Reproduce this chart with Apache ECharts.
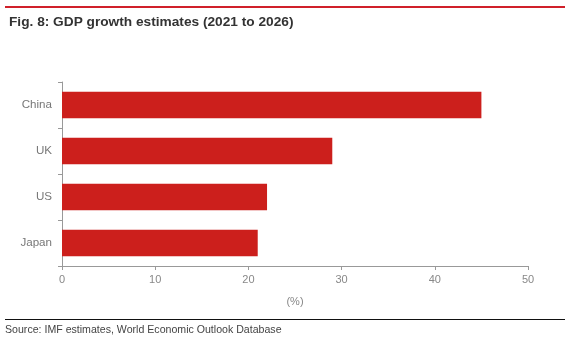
<!DOCTYPE html>
<html><head><meta charset="utf-8">
<script src="https://cdn.jsdelivr.net/npm/echarts@6/dist/echarts.min.js"></script>
<style>html,body{margin:0;padding:0;background:#fff}#c{width:569px;height:341px}</style>
</head><body><div id="c"></div>
<script>
var categories = ['China', 'UK', 'US', 'Japan'];
var values = [45, 29, 22, 21];
var xTicks = [0, 10, 20, 30, 40, 50];

var chart = echarts.init(document.getElementById('c'), null, {renderer: 'canvas'});
chart.setOption({
  animation: false,
  backgroundColor: '#fff',
  title: {
    text: 'Fig. 8: GDP growth estimates (2021 to 2026)',
    left: 4, top: 10,
    textStyle: {fontFamily: 'Liberation Sans, Arial', fontSize: 13.7, fontWeight: 'bold', color: '#333'}
  },
  graphic: [
    {type: 'line', shape: {x1: 5, y1: 7, x2: 565, y2: 7}, style: {stroke: '#d0202a', lineWidth: 2}},
    {type: 'line', shape: {x1: 5, y1: 319.5, x2: 565, y2: 319.5}, style: {stroke: '#111', lineWidth: 1.2}},
    {type: 'text', left: 5, top: 325, style: {text: 'Source: IMF estimates, World Economic Outlook Database', fill: '#444', font: '10.6px Liberation Sans, Arial'}}
  ],
  grid: {left: 62, right: 41, top: 82, bottom: 75, containLabel: false},
  xAxis: {
    type: 'value', min: 0, max: 50, interval: 10,
    name: '(%)', nameLocation: 'middle', nameGap: 30,
    nameTextStyle: {color: '#888', fontSize: 11, fontFamily: 'Liberation Sans, Arial'},
    axisLine: {show: true, lineStyle: {color: '#999', width: 1}},
    axisTick: {show: true, length: 4, lineStyle: {color: '#999'}},
    axisLabel: {color: '#888', fontSize: 11, margin: 8, fontFamily: 'Liberation Sans, Arial',
      formatter: function (v) { return xTicks.indexOf(v) >= 0 ? String(v) : ''; }},
    splitLine: {show: false}
  },
  yAxis: {
    type: 'category', data: categories, inverse: true,
    axisLine: {show: true, lineStyle: {color: '#999', width: 1}},
    axisTick: {show: true, length: 4, lineStyle: {color: '#999'}},
    axisLabel: {color: '#777', fontSize: 11.6, margin: 10, fontFamily: 'Liberation Sans, Arial'}
  },
  series: [{
    type: 'bar', data: values, barWidth: '58%',
    itemStyle: {color: '#cc1f1c'}
  }]
});
</script></body></html>
